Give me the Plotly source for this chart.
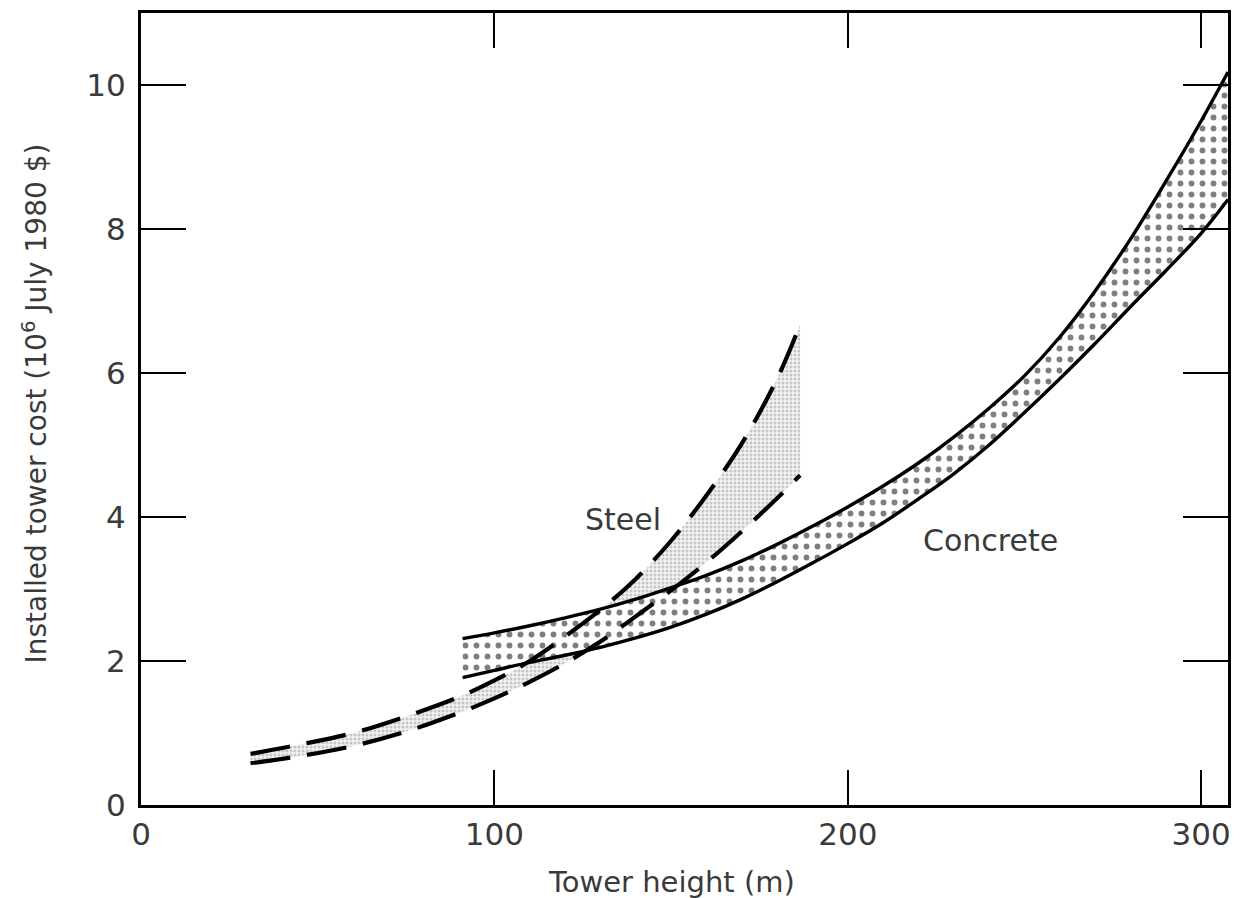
import plotly.graph_objects as go

# ---- data ----
steel_x = [31, 45, 60, 75, 90, 100, 110, 120, 130, 140, 150, 160, 170, 180, 186.5]
steel_upper = [0.71, 0.84, 1.00, 1.23, 1.50, 1.73, 2.00, 2.34, 2.71, 3.14, 3.67, 4.30, 5.02, 5.92, 6.67]
steel_lower = [0.58, 0.68, 0.82, 1.02, 1.28, 1.48, 1.71, 1.97, 2.27, 2.62, 2.98, 3.37, 3.80, 4.26, 4.58]

concrete_x = [91, 100, 110, 120, 130, 140, 150, 160, 170, 180, 190, 200, 210, 220,
              230, 240, 250, 260, 270, 280, 290, 300, 307.6]
concrete_upper = [2.31, 2.39, 2.49, 2.60, 2.72, 2.86, 3.02, 3.19, 3.39, 3.62, 3.87, 4.14, 4.43, 4.75,
                  5.11, 5.51, 5.96, 6.50, 7.14, 7.86, 8.66, 9.50, 10.18]
concrete_lower = [1.77, 1.87, 1.98, 2.08, 2.19, 2.32, 2.47, 2.65, 2.86, 3.10, 3.36, 3.63, 3.92, 4.25,
                  4.60, 5.00, 5.45, 5.92, 6.41, 6.92, 7.42, 7.94, 8.41]

x_ticks = [0, 100, 200, 300]
y_ticks = [0, 2, 4, 6, 8, 10]

labels = [("Steel", 136.5, 3.96), ("Concrete", 240.5, 3.67)]

FONT = "DejaVu Sans"
TXT = "#3a3a3a"

fig = go.Figure()

# fills (drawn first, without outlines)
fig.add_trace(go.Scatter(x=steel_x, y=steel_lower, mode="lines", line=dict(width=0, shape="spline"),
                         hoverinfo="skip", showlegend=False))
fig.add_trace(go.Scatter(x=steel_x, y=steel_upper, mode="lines", line=dict(width=0, shape="spline"),
                         fill="tonexty", fillcolor="rgba(0,0,0,0)",
                         fillpattern=dict(shape=".", size=4, solidity=0.45, fgcolor="#9a9a9a", bgcolor="#f2f2f2"),
                         hoverinfo="skip", showlegend=False))
fig.add_trace(go.Scatter(x=concrete_x, y=concrete_lower, mode="lines", line=dict(width=0, shape="spline"),
                         hoverinfo="skip", showlegend=False))
fig.add_trace(go.Scatter(x=concrete_x, y=concrete_upper, mode="lines", line=dict(width=0, shape="spline"),
                         fill="tonexty", fillcolor="rgba(0,0,0,0)",
                         fillpattern=dict(shape=".", size=11, solidity=0.22, fgcolor="#000000", bgcolor="white"),
                         hoverinfo="skip", showlegend=False))

# outlines
for ys in (steel_upper, steel_lower):
    fig.add_trace(go.Scatter(x=steel_x, y=ys, mode="lines",
                             line=dict(color="black", width=4.2, dash="40px,17px", shape="spline"),
                             hoverinfo="skip", showlegend=False))
for ys in (concrete_upper, concrete_lower):
    fig.add_trace(go.Scatter(x=concrete_x, y=ys, mode="lines",
                             line=dict(color="black", width=3.4, shape="spline"),
                             hoverinfo="skip", showlegend=False))

for txt, lx, ly in labels:
    fig.add_annotation(x=lx, y=ly, text=txt, showarrow=False,
                       font=dict(family=FONT, size=30, color=TXT))

fig.add_annotation(xref="paper", yref="paper", x=0.4885, y=-0.097, xanchor="center", yanchor="middle",
                   text="Tower height (m)",
                   showarrow=False, font=dict(family=FONT, size=29, color=TXT))
fig.add_annotation(xref="paper", yref="paper", x=-0.0975, y=0.507, xanchor="center", yanchor="middle",
                   textangle=-90,
                   text="Installed tower cost (10<sup>6</sup> July 1980 $)",
                   showarrow=False, font=dict(family=FONT, size=28, color=TXT))

fig.update_xaxes(range=[0, 307.6], tickvals=x_ticks, ticks="inside", ticklen=35, tickwidth=2,
                 tickcolor="black", mirror="ticks", showline=True, linewidth=3, linecolor="black",
                 showgrid=False, zeroline=False,
                 tickfont=dict(family=FONT, size=31, color=TXT))
fig.update_yaxes(range=[0, 11], tickvals=y_ticks, ticks="inside", ticklen=45, tickwidth=2,
                 tickcolor="black", mirror="ticks", showline=True, linewidth=3, linecolor="black",
                 showgrid=False, zeroline=False, ticklabelstandoff=6,
                 tickfont=dict(family=FONT, size=31, color=TXT))

fig.update_layout(width=1242, height=898, margin=dict(l=141, r=14, t=10, b=93),
                  plot_bgcolor="white", paper_bgcolor="white")

fig.write_html("out.html")
